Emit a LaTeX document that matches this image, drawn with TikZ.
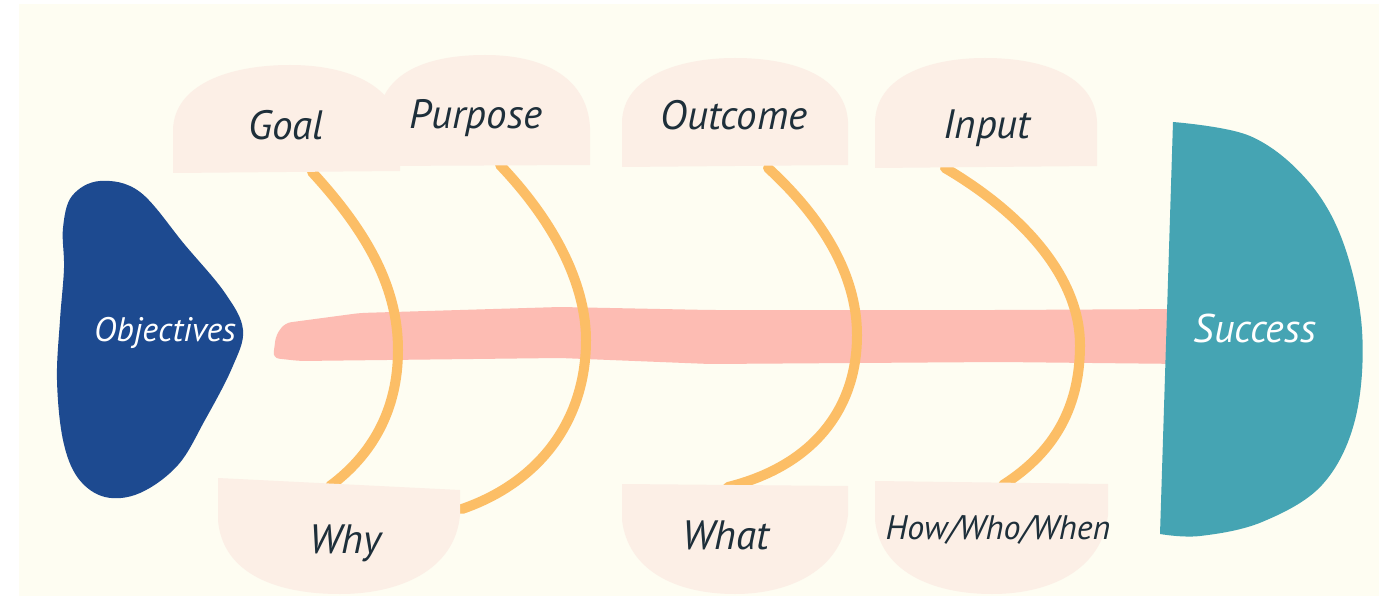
\documentclass[tikz,border=0pt]{standalone}
\usepackage{fontspec}
\newfontfamily\hand{PT Sans}
\definecolor{bgcream}{RGB}{254,253,242}
\definecolor{cappink}{RGB}{252,239,230}
\definecolor{bonecol}{RGB}{252,190,102}
\definecolor{spinecol}{RGB}{253,188,179}
\definecolor{objblue}{RGB}{29,74,144}
\definecolor{succteal}{RGB}{69,164,179}
\definecolor{inkcol}{RGB}{30,47,58}
\tikzset{
  capshape/.style={fill=cappink, draw=none},
  bone/.style={draw=bonecol, line width=10pt, line cap=round},
  lbl/.style={text=inkcol, font=\hand\itshape\fontsize{41}{43}\selectfont, inner sep=0pt, anchor=center},
  lblsmall/.style={lbl, font=\hand\itshape\fontsize{34}{36}\selectfont},
  whitelbl/.style={text=white, font=\hand\itshape\fontsize{34}{36}\selectfont, inner sep=0pt, anchor=center}
}
\begin{document}
\begin{tikzpicture}[x=1pt,y=-1pt]
\useasboundingbox (0,0) rectangle (1392,596);
\fill[white] (0,0) rectangle (1392,596);
\fill[bgcream] (19,4) rectangle (1379,596);
% spine
\fill[spinecol, rounded corners=6pt] (285,323) -- (360,313) -- (560,307) -- (710,310) -- (1000,310) -- (1185,309) -- (1185,364) -- (1000,362) -- (710,364) -- (560,358) -- (300,361) -- (273,358) -- (276,335) -- cycle;
% bone endpoints
\coordinate (g1) at (312,172);
\coordinate (w1) at (330,486);
\coordinate (p1) at (500,165);
\coordinate (w2) at (462,509);
\coordinate (o1) at (768,168);
\coordinate (t1) at (728,487);
\coordinate (i1) at (945,168);
\coordinate (h1) at (1003,485);
% bones
\draw[bone] (g1) .. controls (370,235) and (398,290) .. (398,350) .. controls (398,410) and (372,455) .. (w1);
\draw[bone] (p1) .. controls (560,228) and (586,290) .. (586,340) .. controls (586,420) and (540,482) .. (w2);
\draw[bone] (o1) .. controls (830,225) and (857,282) .. (857,335) .. controls (857,410) and (812,466) .. (t1);
\draw[bone] (i1) .. controls (1030,218) and (1080,282) .. (1080,345) .. controls (1080,412) and (1050,455) .. (h1);
% top caps
\fill[capshape] (173,173) -- (173,130) .. controls (174,85) and (228,65) .. (290,65) .. controls (352,65) and (398,88) .. (400,132) -- (400,171) -- cycle;
\fill[capshape] (378,166) -- (378,118) .. controls (382,72) and (428,55) .. (485,55) .. controls (550,55) and (588,82) .. (590,128) -- (590,165) -- cycle;
\fill[capshape] (622,167) -- (622,122) .. controls (623,77) and (678,58) .. (735,58) .. controls (797,58) and (846,78) .. (848,122) -- (848,165) -- cycle;
\fill[capshape] (875,168) -- (875,122) .. controls (876,77) and (928,58) .. (985,58) .. controls (1047,58) and (1095,78) .. (1097,122) -- (1097,166) -- cycle;
% bottom bowls
\fill[capshape] (218,478) -- (460,490) -- (460,515) .. controls (455,570) and (400,594) .. (340,594) .. controls (270,594) and (222,570) .. (218,520) -- cycle;
\fill[capshape] (622,484) -- (848,486) -- (848,515) .. controls (842,570) and (790,594) .. (735,594) .. controls (675,594) and (628,570) .. (622,520) -- cycle;
\fill[capshape] (875,481) -- (1108,484) -- (1108,515) .. controls (1102,570) and (1050,594) .. (992,594) .. controls (930,594) and (880,570) .. (875,520) -- cycle;
% head and tail
\fill[objblue] plot[smooth cycle, tension=0.6] coordinates {(100,181) (140,192) (185,245) (225,293) (243,330) (232,368) (205,420) (178,465) (140,493) (105,497) (78,478) (63,440) (57,380) (60,320) (64,268) (63,228) (72,196)};
\fill[succteal] plot[smooth, tension=0.6] coordinates {(1173,122) (1250,136) (1307,180) (1343,242) (1362,330) (1355,420) (1322,485) (1262,522) (1200,536) (1160,534)} -- cycle;
% labels
\node[lbl] (goal) at (286,125) {Goal};
\node[lbl] (purpose) at (476,118) {Purpose};
\node[lbl] (outcome) at (734,115) {Outcome};
\node[lbl] (input) at (987,128) {Input};
\node[lbl] (why) at (345,543) {Why};
\node[lbl] (what) at (726,535) {What};
\node[lblsmall] (how) at (998,530) {How/Who/When};
\node[whitelbl] (objectives) at (165,333) {Objectives};
\node[whitelbl, font=\hand\itshape\fontsize{40}{42}\selectfont] (success) at (1255,328) {Success};
\end{tikzpicture}
\end{document}
